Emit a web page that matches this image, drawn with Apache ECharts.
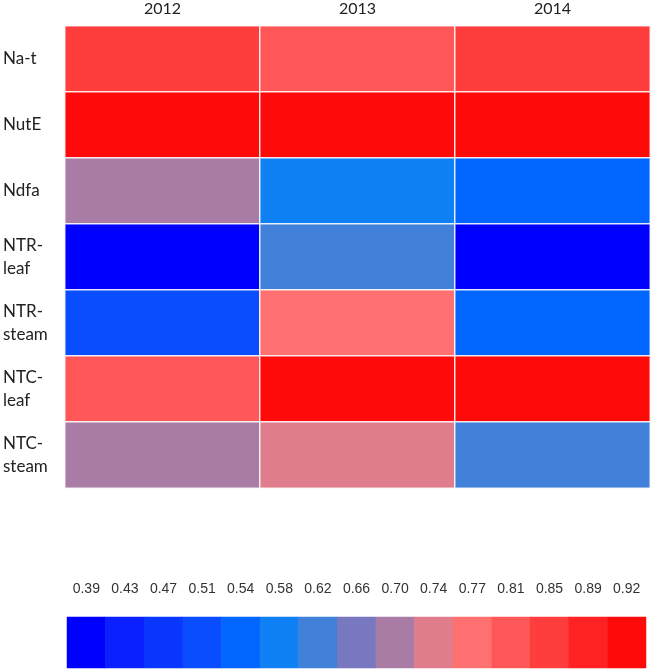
<!DOCTYPE html>
<html>
<head>
<meta charset="utf-8">
<script src="https://cdn.jsdelivr.net/npm/echarts@6/dist/echarts.min.js"></script>
<style>
html,body{margin:0;padding:0;background:#fff;}
#chart{width:653px;height:670px;}
</style>
</head>
<body>
<div id="chart"></div>
<script>
var years = ['2012', '2013', '2014'];
var rows = ['Na-t', 'NutE', 'Ndfa', 'NTR-\nleaf', 'NTR-\nsteam', 'NTC-\nleaf', 'NTC-\nsteam'];
var vals2012 = [0.85, 0.92, 0.70, 0.39, 0.51, 0.81, 0.70];
var vals2013 = [0.81, 0.92, 0.58, 0.62, 0.77, 0.92, 0.74];
var vals2014 = [0.85, 0.92, 0.54, 0.39, 0.54, 0.92, 0.62];
var scaleTicks = [0.39, 0.43, 0.47, 0.51, 0.54, 0.58, 0.62, 0.66, 0.70, 0.74, 0.77, 0.81, 0.85, 0.89, 0.92];
var scaleTickLabels = ['0.39', '0.43', '0.47', '0.51', '0.54', '0.58', '0.62', '0.66', '0.70', '0.74', '0.77', '0.81', '0.85', '0.89', '0.92'];
var palette = ['#0000FF', '#0A20FF', '#0A37FF', '#0A4DFF', '#0066FF', '#1080F5', '#4281D9', '#7878C0', '#A97CA6', '#DF7D8C', '#FF7070', '#FF5757', '#FF3D3D', '#FF2222', '#FF0A0A'];

var cols = [vals2012, vals2013, vals2014];
var cellData = [];
for (var c = 0; c < cols.length; c++) {
  for (var r = 0; r < rows.length; r++) {
    cellData.push([c, r, cols[c][r]]);
  }
}
var scaleData = scaleTicks.map(function (v, i) { return [i, 0, v]; });
var pieces = scaleTicks.map(function (v, i) { return { value: v, color: palette[i] }; });

var chart = echarts.init(document.getElementById('chart'));
chart.setOption({
  animation: false,
  backgroundColor: '#fff',
  grid: [
    { left: 64, top: 26, width: 586, height: 462 },
    { left: 67, top: 617, width: 579, height: 51 }
  ],
  xAxis: [
    {
      gridIndex: 0, type: 'category', data: years, position: 'top',
      axisLine: { show: false }, axisTick: { show: false }, splitLine: { show: false },
      axisLabel: { margin: 9, fontFamily: 'Lato', fontSize: 16, color: '#222' }
    },
    {
      gridIndex: 1, type: 'category', data: scaleTickLabels, position: 'top',
      axisLine: { show: false }, axisTick: { show: false }, splitLine: { show: false },
      axisLabel: { margin: 21, fontFamily: 'Liberation Sans Narrow, Arial Narrow, sans-serif', fontSize: 14, color: '#333', interval: 0 }
    }
  ],
  yAxis: [
    {
      gridIndex: 0, type: 'category', data: rows, inverse: true,
      axisLine: { show: false }, axisTick: { show: false }, splitLine: { show: false },
      axisLabel: { margin: 62, align: 'left', fontFamily: 'Lato', fontSize: 17, lineHeight: 23, color: '#222' }
    },
    {
      gridIndex: 1, type: 'category', data: [''],
      axisLine: { show: false }, axisTick: { show: false }, axisLabel: { show: false }, splitLine: { show: false }
    }
  ],
  visualMap: {
    type: 'piecewise', show: false, dimension: 2, seriesIndex: [0, 1],
    pieces: pieces
  },
  series: [
    {
      type: 'heatmap', xAxisIndex: 0, yAxisIndex: 0, data: cellData,
      itemStyle: { borderColor: 'rgba(255,255,255,0.85)', borderWidth: 1.5 },
      emphasis: { disabled: true }, label: { show: false }
    },
    {
      type: 'heatmap', xAxisIndex: 1, yAxisIndex: 1, data: scaleData,
      itemStyle: { borderWidth: 0 },
      emphasis: { disabled: true }, label: { show: false }
    }
  ]
});
</script>
</body>
</html>
